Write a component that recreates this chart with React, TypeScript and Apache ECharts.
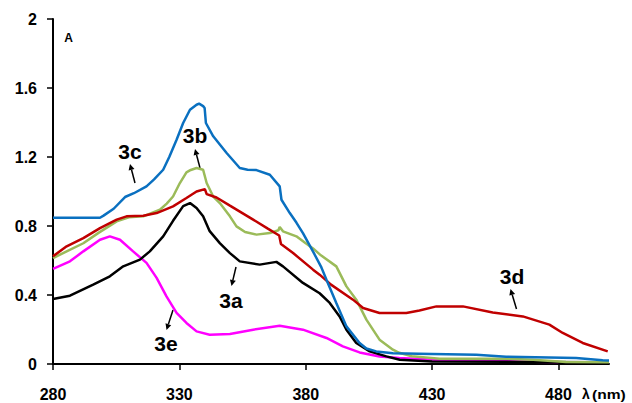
import React, { useEffect, useRef } from "react";
import * as echarts from "echarts";

const xTicks = [280, 330, 380, 430, 480];

const s3a: number[][] = [[280,0.377],[286.7,0.396],[295.9,0.46],[302.5,0.508],[307.8,0.566],[314.4,0.605],[318.3,0.653],[323.6,0.74],[327.5,0.83],[331.5,0.915],[334.2,0.933],[336.8,0.904],[339.4,0.856],[342,0.77],[346,0.701],[350,0.643],[353.9,0.595],[361.8,0.576],[368.4,0.592],[371,0.566],[378.9,0.47],[385.5,0.41],[389.5,0.354],[393.4,0.276],[396.1,0.199],[400,0.122],[405.3,0.073],[411.9,0.044],[417.2,0.025],[430,0.015],[470,0.012],[500,0.01]];

const s3b: number[][] = [[280,0.614],[285,0.65],[292,0.7],[298,0.76],[305.2,0.827],[310,0.85],[315.7,0.856],[322.3,0.894],[325,0.93],[327.5,0.971],[330.2,1.049],[332.8,1.111],[334.5,1.125],[336.8,1.136],[339.4,1.126],[340.8,1.049],[343.4,0.971],[346,0.933],[350,0.856],[352.6,0.798],[356,0.765],[360.5,0.75],[365.8,0.759],[369.2,0.775],[369.7,0.794],[371,0.769],[376.3,0.74],[380,0.7],[382.9,0.67],[386,0.63],[392.1,0.566],[396.1,0.45],[400,0.373],[404,0.257],[409.2,0.141],[414.5,0.083],[417,0.065],[422,0.045],[433,0.031],[460,0.03],[470,0.025],[483,0.012],[500,0.01]];

const s3c: number[][] = [[280,0.848],[298.6,0.848],[300,0.86],[304,0.9],[308.5,0.968],[312,0.99],[317,1.03],[320,1.07],[323.6,1.126],[326,1.2],[328.9,1.3],[331.5,1.397],[334.2,1.474],[336.8,1.503],[337.8,1.509],[339.4,1.495],[340,1.484],[340.5,1.397],[343.4,1.32],[348.7,1.223],[353.9,1.136],[357,1.126],[360.5,1.124],[365.8,1.097],[369.7,1.03],[370.4,0.952],[373.7,0.875],[376.3,0.82],[378.9,0.759],[383.5,0.635],[386.2,0.56],[388.2,0.489],[392.1,0.354],[396.1,0.218],[401.3,0.122],[404,0.09],[407.9,0.073],[414.5,0.062],[430,0.058],[447.5,0.054],[459.3,0.042],[487,0.035],[497.5,0.022],[500,0.02]];

const s3d: number[][] = [[280,0.624],[285.4,0.682],[292,0.73],[298.6,0.788],[305.2,0.837],[309.1,0.856],[315.7,0.86],[321,0.875],[327.5,0.914],[332.8,0.962],[336.8,1.0],[340.1,1.014],[340.8,0.985],[344.7,0.965],[350,0.918],[359.2,0.837],[365,0.785],[369.5,0.745],[370.2,0.695],[375,0.643],[382.9,0.547],[385.5,0.518],[390,0.46],[398.7,0.373],[402.7,0.325],[409.2,0.296],[419.8,0.296],[425,0.31],[431.7,0.334],[442.2,0.334],[454,0.299],[465.9,0.276],[476.4,0.228],[481.7,0.18],[489.6,0.122],[499.5,0.073]];

const s3e: number[][] = [[280,0.551],[286.7,0.595],[292,0.653],[298.6,0.72],[302.5,0.74],[306.5,0.72],[311.7,0.653],[317,0.586],[321,0.499],[324.9,0.392],[328.9,0.296],[332.8,0.238],[336.8,0.189],[342,0.17],[350,0.174],[359.2,0.199],[369.7,0.222],[378.9,0.199],[388.2,0.151],[394.7,0.102],[401.3,0.067],[409.2,0.044],[417,0.035],[437,0.021],[470,0.013],[480,0.012]];

const FONT = "'Liberation Sans', Arial, sans-serif";

function arrow(x1: number, y1: number, x2: number, y2: number) {
  const dx = x2 - x1, dy = y2 - y1;
  const len = Math.sqrt(dx * dx + dy * dy);
  const ux = dx / len, uy = dy / len;
  const hl = 6, hw = 3;
  const bx = x2 - ux * hl, by = y2 - uy * hl;
  return {
    type: "group",
    children: [
      { type: "line", shape: { x1, y1, x2: bx, y2: by }, style: { stroke: "#000", lineWidth: 1.5 } },
      {
        type: "polygon",
        shape: { points: [[x2, y2], [bx - uy * hw, by + ux * hw], [bx + uy * hw, by - ux * hw]] },
        style: { fill: "#000" },
      },
    ],
  };
}

function label(text: string, x: number, y: number) {
  return {
    type: "text",
    x, y,
    style: { text, fill: "#000", font: `bold 21px ${FONT}`, align: "center", verticalAlign: "middle" },
  };
}

export default function App() {
  const ref = useRef<HTMLDivElement>(null);
  useEffect(() => {
    if (!ref.current) return;
    const chart = echarts.init(ref.current, null, { renderer: "svg" });
    const mk = (name: string, data: number[][], color: string) => ({
      name, type: "line", data, showSymbol: false, symbol: "none",
      lineStyle: { color, width: 2.5 }, itemStyle: { color }, z: 2,
    });
    chart.setOption({
      animation: false,
      backgroundColor: "#fff",
      grid: { left: 53, right: 23, top: 19, bottom: 39 },
      xAxis: {
        type: "value", min: 280, max: 500, interval: 50,
        axisLine: { lineStyle: { color: "#000", width: 2 } },
        axisTick: { show: true, length: 6, lineStyle: { color: "#000", width: 1.5 }, customValues: xTicks },
        axisLabel: { customValues: xTicks, color: "#000", fontWeight: "bold", fontSize: 16, fontFamily: FONT, margin: 22 },
        splitLine: { show: false },
      },
      yAxis: {
        type: "value", min: 0, max: 2, interval: 0.4,
        axisLine: { show: true, lineStyle: { color: "#000", width: 2 } },
        axisTick: { show: true, length: 6, lineStyle: { color: "#000", width: 1.5 } },
        axisLabel: { color: "#000", fontWeight: "bold", fontSize: 16, fontFamily: FONT, margin: 16 },
        splitLine: { show: false },
      },
      series: [
        mk("3e", s3e, "#FF00FF"),
        mk("3a", s3a, "#000000"),
        mk("3b", s3b, "#9BBB59"),
        mk("3d", s3d, "#C00000"),
        mk("3c", s3c, "#0A70C0"),
      ],
      graphic: [
        { type: "text", x: 68.5, y: 38, style: { text: "A", fill: "#000", font: `bold 12px ${FONT}`, align: "center", verticalAlign: "middle" } },
        { type: "text", x: 586, y: 394, style: { text: "λ", fill: "#000", font: `bold 14px ${FONT}`, align: "center", verticalAlign: "middle" } },
        { type: "text", x: 592, y: 395, scaleX: 1.3, style: { text: "(nm)", fill: "#000", font: `bold 12px ${FONT}`, align: "left", verticalAlign: "middle" } },
        label("3c", 130, 151),
        label("3b", 195, 135),
        label("3a", 231, 300),
        label("3e", 166, 343),
        label("3d", 512, 276),
        arrow(135, 183, 130, 164),
        arrow(200, 168, 195, 149),
        arrow(236, 267, 231.5, 286),
        arrow(173, 310, 166.5, 330),
        arrow(516.5, 309, 510.5, 289),
      ],
    });
    return () => chart.dispose();
  }, []);
  return <div ref={ref} style={{ position: "fixed", left: 0, top: 0, width: 632, height: 403 }} />;
}
